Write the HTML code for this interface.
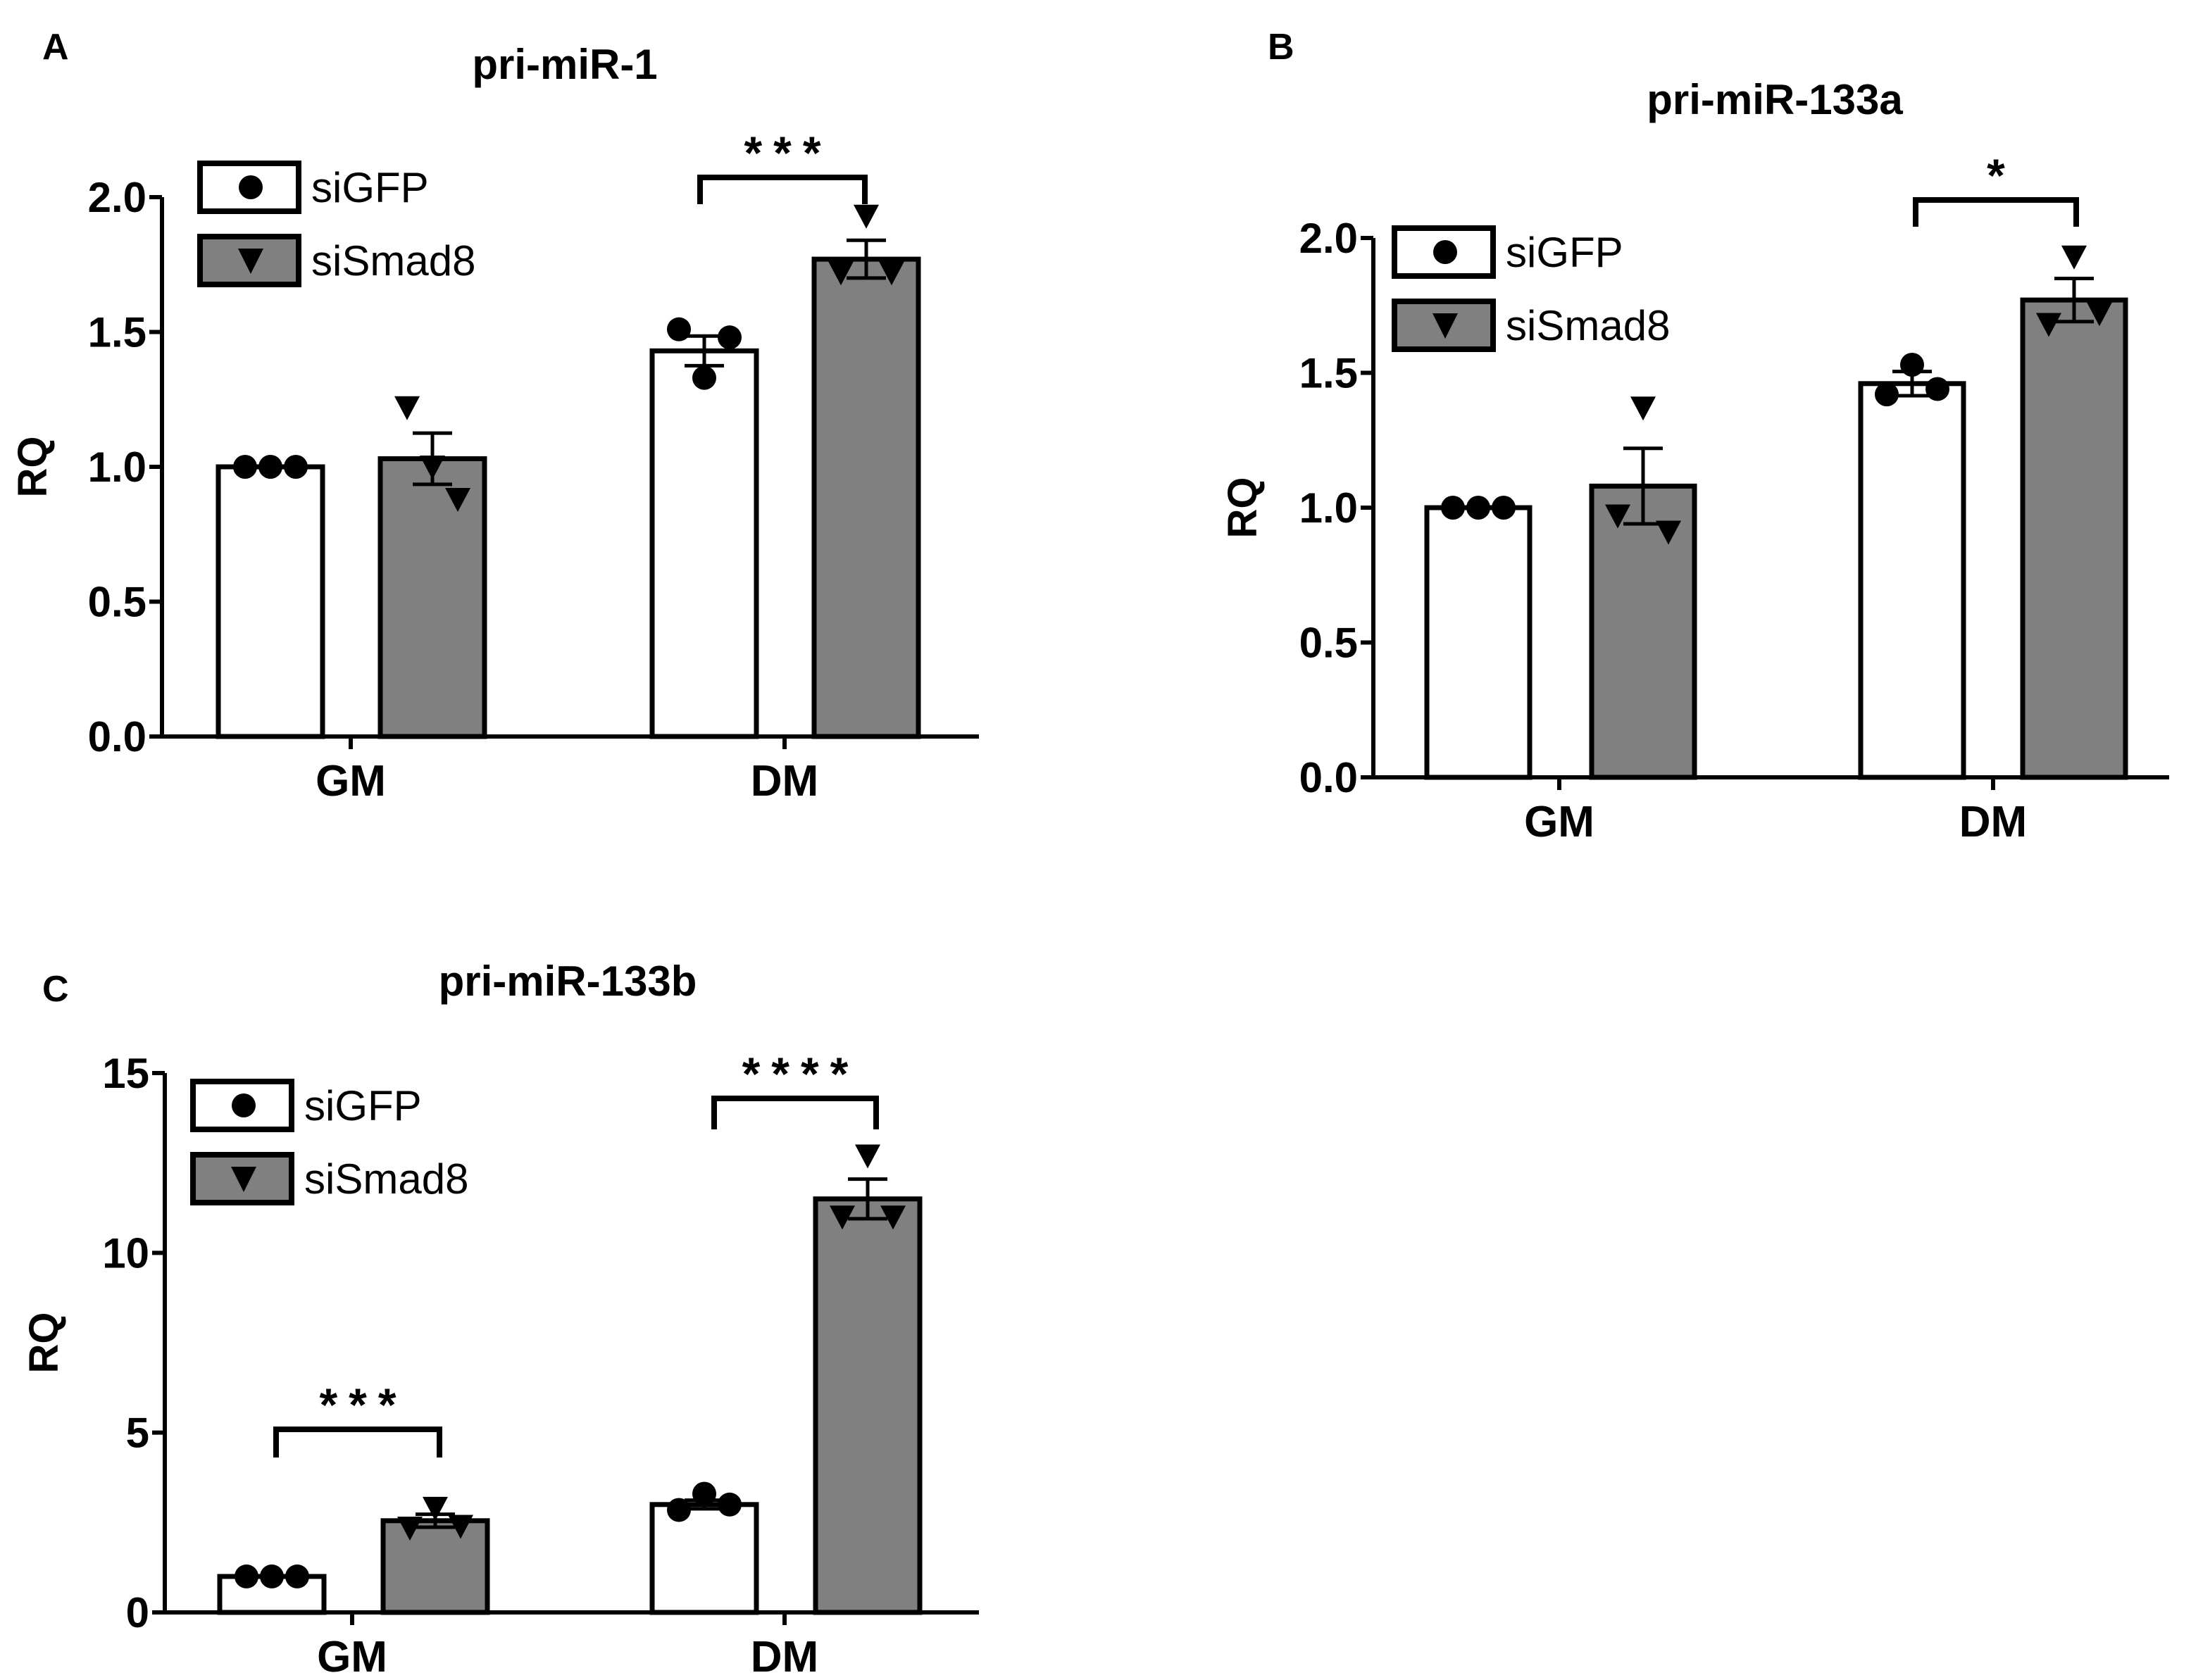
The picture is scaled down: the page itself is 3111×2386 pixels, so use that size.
<!DOCTYPE html>
<html><head><meta charset="utf-8"><style>
html,body{margin:0;padding:0;background:#fff}
svg{display:block}
text{font-family:"Liberation Sans",sans-serif}
</style></head><body>
<svg id="fig" width="3111" height="2386" viewBox="0 0 3111 2386" xmlns="http://www.w3.org/2000/svg"></svg>
<script>
// ---- data ----
const categories = ["GM","DM"];
const seriesNames = ["siGFP","siSmad8"];
// Panel A: pri-miR-1
const aMeans = [[1.0,1.03],[1.43,1.77]];
const aErr = [[0,0.095],[0.055,0.07]];
const aPoints = [[[1.0,1.0,1.0],[1.22,1.0,0.88]],[[1.51,1.33,1.48],[1.72,1.93,1.72]]];
const aTicks = [0,0.5,1.0,1.5,2.0];
const aTickLabels = ["0.0","0.5","1.0","1.5","2.0"];
// Panel B: pri-miR-133a
const bMeans = [[1.0,1.08],[1.46,1.77]];
const bErr = [[0,0.14],[0.045,0.08]];
const bPoints = [[[1.0,1.0,1.0],[0.97,1.37,0.91]],[[1.42,1.53,1.44],[1.68,1.93,1.72]]];
const bTicks = [0,0.5,1.0,1.5,2.0];
const bTickLabels = ["0.0","0.5","1.0","1.5","2.0"];
// Panel C: pri-miR-133b
const cMeans = [[1.0,2.55],[3.0,11.5]];
const cErr = [[0,0.18],[0.12,0.55]];
const cPoints = [[[1.0,1.0,1.0],[2.35,2.9,2.4]],[[2.85,3.3,3.0],[11.0,12.7,11.0]]];
const cTicks = [0,5,10,15];
const cTickLabels = ["0","5","10","15"];

const NS="http://www.w3.org/2000/svg";
const svg=document.getElementById('fig');
function mk(tag,attrs,parent){const e=document.createElementNS(NS,tag);for(const k in attrs)e.setAttribute(k,attrs[k]);(parent||svg).appendChild(e);return e;}

function panel(p){
  const g=mk('g',{});
  
  
  const y=v=>p.y0-(v-p.ticks[0])/(p.ticks[p.ticks.length-1]-p.ticks[0])*(p.y0-p.yTop);
  const t=mk('text',{x:p.labelX,y:p.labelY,'font-size':52,'font-weight':'bold'},g);t.textContent=p.letter;
  
  
  const ti=mk('text',{x:p.titleX,y:p.titleY,'font-size':60,'font-weight':'bold','text-anchor':'middle'},g);ti.textContent=p.title;
  
  
  for(let c=0;c<2;c++)for(let s=0;s<2;s++){
    const x0=p.barX[c][s],w=p.barW,v=p.means[c][s];
    const r=mk('rect',{x:x0,y:y(v),width:w,height:p.y0-y(v),fill:s?'#808080':'#fff',stroke:'#000','stroke-width':7},g);
    
    
  }
  const ax=mk('path',{d:`M${p.axX} ${p.yTop} V${p.y0} H${p.xEnd}`,fill:'none',stroke:'#000','stroke-width':6},g);
  
  
  p.ticks.forEach((v,i)=>{
    mk('line',{x1:p.axX-18,x2:p.axX,y1:y(v),y2:y(v),stroke:'#000','stroke-width':6},g);
    const tl=mk('text',{x:p.axX-22,y:y(v)+21,'font-size':60,'font-weight':'bold','text-anchor':'end'},g);tl.textContent=p.tickLabels[i];
    
    
  });
  categories.forEach((c,i)=>{
    mk('line',{x1:p.catX[i],x2:p.catX[i],y1:p.y0,y2:p.y0+18,stroke:'#000','stroke-width':6},g);
    const cl=mk('text',{x:p.catX[i],y:p.y0+84,'font-size':62,'font-weight':'bold','text-anchor':'middle'},g);cl.textContent=c;
    
    
  });
  const yl=mk('text',{x:0,y:0,'font-size':58,'font-weight':'bold','text-anchor':'middle',transform:`translate(${p.rqX},${(p.y0+p.yTop)/2}) rotate(-90)`},g);yl.textContent='RQ';
  
  
  for(let c=0;c<2;c++)for(let s=0;s<2;s++){
    const cx=p.barX[c][s]+p.barW/2;
    const pts=p.points[c][s];const offs=[-36,0,36];
    pts.forEach((v,k)=>{
      const px=cx+offs[k],py=y(v);
      let m;
      if(s===0)m=mk('circle',{cx:px,cy:py,r:17,fill:'#000'},g);
      else m=mk('path',{d:`M${px-18} ${py-16} H${px+18} L${px} ${py+18} Z`,fill:'#000'},g);
      
      
    });
    const e=p.err[c][s];
    if(e>0){
      const hi=y(p.means[c][s]+e),lo=y(p.means[c][s]-e);
      const eb=mk('path',{d:`M${cx} ${hi} V${lo} M${cx-28} ${hi} H${cx+28} M${cx-28} ${lo} H${cx+28}`,stroke:'#000','stroke-width':5,fill:'none'},g);
      
      
    }
  }
  p.brackets.forEach(b=>{
    const br=mk('path',{d:`M${b.x1} ${b.bot} V${b.top} H${b.x2} V${b.bot}`,fill:'none',stroke:'#000','stroke-width':8},g);
    
    
    const st=mk('text',{x:(b.x1+b.x2)/2+8,y:b.top-12,'font-size':66,'font-weight':'bold','text-anchor':'middle','letter-spacing':16},g);st.textContent=b.label;
    
    
  });
  [0,1].forEach(s=>{
    const ly=p.legY+s*p.legGap;
    const lb=mk('rect',{x:p.legX,y:ly,width:140,height:68,fill:s?'#808080':'#fff',stroke:'#000','stroke-width':8},g);
    
    
    const mx=p.legX+72,my=ly+34;
    if(s===0)mk('circle',{cx:mx,cy:my,r:17,fill:'#000'},g);
    else mk('path',{d:`M${mx-18} ${my-17} H${mx+18} L${mx} ${my+19} Z`,fill:'#000'},g);
    const lt=mk('text',{x:p.legX+158,y:my+21,'font-size':60},g);lt.textContent=seriesNames[s];
    
    
  });
}

panel({id:'a',letter:'A',labelX:60,labelY:84,title:'pri-miR-1',titleX:802,titleY:112,
  axX:230,y0:1046,yTop:280,xEnd:1390,ticks:aTicks,tickLabels:aTickLabels,
  barX:[[310,540],[926,1156]],barW:148,catX:[498,1114],rqX:66,
  means:aMeans,err:aErr,points:aPoints,
  brackets:[{x1:994,x2:1228,top:252,bot:290,label:'***'}],
  legX:284,legY:232,legGap:104});
panel({id:'b',letter:'B',labelX:1800,labelY:84,title:'pri-miR-133a',titleX:2520,titleY:162,
  axX:1950,y0:1104,yTop:338,xEnd:3080,ticks:bTicks,tickLabels:bTickLabels,
  barX:[[2026,2260],[2642,2872]],barW:146,catX:[2214,2830],rqX:1784,
  means:bMeans,err:bErr,points:bPoints,
  brackets:[{x1:2720,x2:2948,top:284,bot:322,label:'*'}],
  legX:1980,legY:324,legGap:104});
panel({id:'c',letter:'C',labelX:60,labelY:1422,title:'pri-miR-133b',titleX:806,titleY:1414,
  axX:234,y0:2290,yTop:1524,xEnd:1390,ticks:cTicks,tickLabels:cTickLabels,
  barX:[[312,544],[926,1158]],barW:148,catX:[500,1114],rqX:82,
  means:cMeans,err:cErr,points:cPoints,
  brackets:[{x1:392,x2:624,top:2030,bot:2070,label:'***'},{x1:1014,x2:1244,top:1560,bot:1604,label:'****'}],
  legX:274,legY:1536,legGap:104});
</script>
</body></html>
